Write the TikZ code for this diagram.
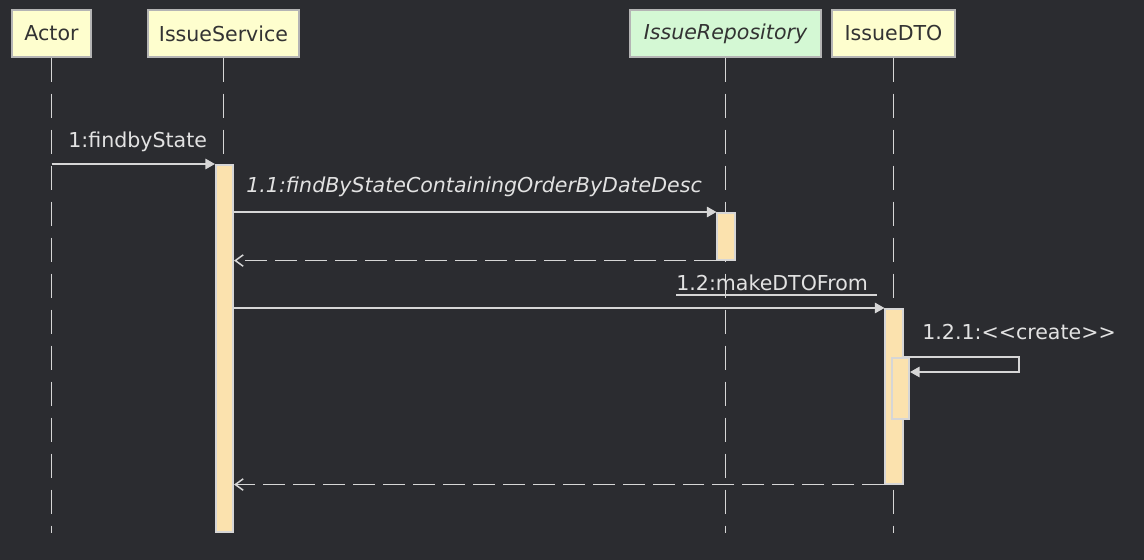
\documentclass[tikz,border=0pt]{standalone}
\usepackage{fontspec}
\setmainfont{DejaVu Sans}
\usetikzlibrary{arrows.meta}
\definecolor{bg}{HTML}{2B2C30}
\definecolor{partfill}{HTML}{FEFECE}
\definecolor{repofill}{HTML}{D4F8D4}
\definecolor{actfill}{HTML}{FBE2AE}
\definecolor{linegray}{HTML}{D6D6D6}
\definecolor{boxline}{HTML}{B4B4B4}
\definecolor{boxtext}{HTML}{333333}
\definecolor{msgtext}{HTML}{E2E2E2}
\begin{document}
\begin{tikzpicture}[x=0.02cm,y=-0.02cm,
    every node/.style={font=\fontsize{11.7}{14}\selectfont},
    part/.style={draw=boxline, line width=0.8pt, fill=partfill, text=boxtext, inner sep=0pt, minimum height=0.94cm},
    life/.style={linegray, line width=0.85pt, dash pattern=on 0.48cm off 0.24cm},
    act/.style={draw=linegray, line width=0.9pt, fill=actfill, inner sep=0pt, minimum width=0.35cm},
    call/.style={linegray, line width=0.85pt, -{Triangle[length=5.5pt,width=6pt]}},
    ret/.style={linegray, line width=0.85pt, dash pattern=on 0.44cm off 0.16cm, -{Straight Barb[length=4.5pt,width=6.5pt]}},
    msg/.style={text=msgtext, inner sep=0pt, anchor=base west}]
    \fill [bg] (0,0) rectangle (1144,560);
    \useasboundingbox (0,0) rectangle (1144,560);
    % participants
    \node [part, minimum width=1.58cm] (actor) at (51.5,33.5) {Actor};
    \node [part, minimum width=3.02cm] (service) at (223.5,33.5) {IssueService};
    \node [part, fill=repofill, minimum width=3.82cm] (repo) at (725.5,33.5) {\itshape IssueRepository};
    \node [part, minimum width=2.46cm] (dto) at (893.5,33.5) {IssueDTO};
    \draw [life] (actor.south) -- (actor.south |- 0,533);
    \draw [life] (service.south) -- (service.south |- 0,533);
    \draw [life] (repo.south) -- (repo.south |- 0,533);
    \draw [life] (dto.south) -- (dto.south |- 0,533);
    % activations
    \node [act, minimum height=7.34cm, anchor=north] (serviceact) at (224.5,164) {};
    \node [act, minimum height=0.94cm, anchor=north] (repoact) at (726,212) {};
    \node [act, minimum height=3.5cm, anchor=north] (dtoact) at (894,308) {};
    \node [act, minimum height=1.22cm, anchor=north] (dtoself) at (900.5,357) {};
    % messages
    \draw [call] (actor.south |- serviceact.north) -- (serviceact.north west);
    \node [msg] (findlbl) at (68,148) {1:findbyState};
    \draw [call] (serviceact.east |- repoact.north) -- (repoact.north west);
    \node [msg] (querylbl) at (246,193) {\itshape 1.1:findByStateContainingOrderByDateDesc};
    \draw [ret] (repoact.south west) -- (serviceact.east |- repoact.south);
    \draw [call] (serviceact.east |- dtoact.north) -- (dtoact.north west);
    \node [msg] (makelbl) at (676,291) {1.2:makeDTOFrom};
    \draw [linegray, line width=0.85pt] (makelbl.base west) ++(0,4) -- (877,295);
    \coordinate (selfturn) at (1019,357);
    \draw [call] (dtoact.east |- dtoself.north) -- (selfturn) -- ++(0,15) -- (dtoself.east |- 0,372);
    \node [msg] (createlbl) at (922,340) {1.2.1:<{}<create>{}>};
    \draw [ret] (dtoact.south west) -- (serviceact.east |- dtoact.south);
\end{tikzpicture}
\end{document}
